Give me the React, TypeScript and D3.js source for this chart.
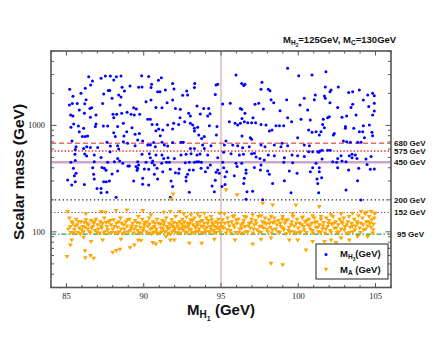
import React from 'react';
import * as d3 from 'd3';

const xMajorTicks = [85, 90, 95, 100, 105];
const yLabelTicks = [100, 1000];
const refValues = [680, 575, 450, 200, 152, 95];
const refLabels = ['680 GeV', '575 GeV', '450 GeV', '200 GeV', '152 GeV', '95 GeV'];
const vLineValue = 95;

// [M_H1, M_H3]
const h3Points: [number, number][] = [
[86.44,2870],[86.68,2610],[86.57,2395],[87.24,2767],[87.52,2910],[87.84,2910],[88.06,2670],[88.23,2870],[88.53,2910],[85.21,2180],[86.22,2228],[85.42,1880],[85.94,2000],[86.27,1745],[87.71,2130],[87.80,2130],[87.41,1970],[87.95,1795],[88.60,2280],[88.75,2100],[89.11,2340],[89.67,2280],[88.38,1929],[88.53,1850],[85.19,1553],[85.38,1610],[85.70,1610],[85.83,1395],[86.18,1600],[86.52,1445],[86.63,1465],[87.34,1610],[88.47,1553],[89.35,1465],[86.16,1300],[85.27,1251],[85.42,1225],[86.55,1190],[86.91,1251],[88.01,1270],[88.06,1180],[88.25,1270],[88.57,1300],[88.92,1330],[89.18,1270],[89.39,1251],[89.52,1425],[89.74,1270],[85.47,1030],[85.77,985],[85.29,960],[86.11,938],[86.91,1030],[86.87,975],[87.39,985],[87.67,985],[88.31,975],[88.68,1045],[89.24,950],[85.83,872],[86.03,785],[86.22,785],[86.37,795],[88.06,855],[88.16,785],[88.72,795],[88.90,872],[89.44,825],[89.72,840],[85.36,713],[85.62,630],[85.57,595],[86.11,608],[86.31,630],[87.02,620],[86.55,620],[87.62,693],[87.84,640],[88.31,645],[88.38,600],[88.68,703],[88.96,680],[89.44,645],[85.55,535],[86.18,540],[86.80,527],[86.31,515],[87.24,500],[87.82,566],[88.31,490],[88.44,463],[85.57,467],[85.29,450],[86.80,456],[87.67,450],[88.10,456],[88.64,440],[89.07,415],[89.50,410],[89.67,424],[87.30,403],[87.45,395],[87.56,380],[88.31,373],[88.98,415],[85.45,395],[85.62,355],[85.51,337],[86.70,400],[86.76,347],[87.95,350],[89.57,380],[86.80,313],[85.08,307],[85.34,275],[85.57,296],[86.16,279],[87.41,296],[87.58,296],[87.78,300],[89.35,300],[86.98,256],[87.24,256],[87.24,233],[87.62,235],
[89.87,2930],[89.89,2290],[90.51,2430],[90.47,2275],[90.32,2880],[90.95,2650],[91.14,2800],[91.05,2073],[90.90,2073],[91.40,2150],[91.87,2470],[91.96,2200],[92.52,1920],[92.78,2100],[92.84,1929],[93.30,2470],[93.28,2275],[94.68,2395],[94.79,2430],[94.63,1955],[90.15,1670],[90.47,1730],[90.79,1475],[91.18,1465],[91.51,1630],[91.87,1730],[92.05,1445],[92.37,1415],[93.45,1520],[92.91,1300],[93.02,1225],[93.66,1280],[93.88,1445],[94.20,1445],[94.14,1225],[94.29,1290],[92.35,1180],[90.26,1145],[90.43,1140],[90.54,1020],[90.86,1020],[90.97,925],[90.79,890],[91.07,800],[91.23,905],[91.55,1008],[91.87,925],[91.94,1045],[92.26,1020],[92.65,1083],[93.02,1045],[93.17,1008],[93.28,938],[93.49,960],[93.28,885],[93.56,812],[93.75,755],[93.92,785],[94.25,990],[94.74,975],[94.70,812],[89.61,730],[89.93,715],[90.26,654],[90.43,654],[90.64,690],[90.75,630],[91.18,695],[91.33,654],[91.55,640],[91.87,690],[92.41,695],[92.56,695],[93.02,608],[93.28,608],[93.81,654],[93.92,608],[94.35,645],[89.89,535],[90.36,543],[90.43,497],[90.58,462],[90.79,527],[91.18,527],[91.29,490],[91.57,497],[91.98,490],[92.41,527],[92.74,535],[93.06,543],[93.45,527],[93.64,538],[94.14,527],[94.79,497],[89.61,456],[90.15,450],[90.54,446],[90.69,424],[91.16,440],[91.48,450],[91.66,450],[92.69,446],[92.95,450],[93.28,450],[93.43,456],[93.56,456],[93.73,450],[94.31,424],[89.61,395],[90.04,390],[90.32,387],[90.86,395],[91.23,367],[91.72,387],[92.30,390],[92.26,355],[92.95,382],[93.21,382],[93.71,395],[94.14,400],[93.99,367],[94.79,382],[94.89,355],[94.68,362],[90.69,347],[92.05,360],[92.84,347],[89.93,318],[90.90,314],[91.77,300],[92.74,300],[94.63,306],[90.32,275],[89.93,280],[92.74,328],[94.42,270],[94.57,238],[92.95,235],[91.87,266],[88.21,211],[91.72,211],
[99.31,3435],[95.97,2975],[96.34,2480],[96.55,2430],[96.47,2365],[97.65,2540],[97.59,2180],[98.06,2180],[98.17,2120],[100.03,2930],[95.11,1590],[95.60,1615],[96.25,1445],[96.34,1415],[97.20,1580],[97.44,1615],[97.74,1425],[98.24,1745],[98.41,1630],[98.82,1375],[99.25,1745],[100.11,1553],[100.39,1795],[95.54,1083],[95.91,1045],[96.08,1008],[96.55,1300],[96.36,1164],[96.51,1083],[96.25,1045],[96.73,1058],[96.98,1058],[97.07,1180],[97.24,1058],[97.59,1020],[97.91,1008],[98.13,885],[98.30,905],[98.56,995],[98.78,995],[99.06,995],[99.31,1180],[99.57,1083],[100.18,1140],[96.36,795],[96.90,765],[96.98,740],[95.32,715],[95.22,654],[95.76,654],[96.08,645],[96.40,615],[96.83,630],[97.59,654],[97.85,630],[98.45,654],[98.95,680],[98.88,630],[99.31,645],[99.96,765],[100.39,654],[95.17,560],[95.65,543],[96.19,527],[96.45,535],[96.98,543],[97.16,548],[97.27,505],[97.52,490],[97.80,473],[98.06,527],[98.45,520],[99.06,450],[99.10,497],[99.60,527],[99.64,446],[99.96,518],[100.39,510],[95.11,450],[95.17,400],[95.37,367],[95.97,440],[96.04,410],[96.34,440],[96.62,382],[96.62,355],[97.16,403],[97.55,382],[97.59,424],[98.02,372],[98.13,347],[99.42,372],[95.26,330],[95.86,337],[96.51,318],[98.34,285],[99.10,302],[99.92,355],[95.06,266],[95.26,278],[96.47,285],[99.53,233],[96.68,238],[97.05,241],[96.62,202],[97.70,200],
[101.79,3196],[100.89,2975],[101.75,2300],[102.12,2150],[102.05,2073],[102.59,2300],[103.95,2150],[103.52,2073],[103.26,2040],[104.81,2000],[104.92,1900],[104.49,1929],[104.21,1730],[101.10,1929],[101.04,1745],[101.69,1885],[101.75,1795],[102.05,1630],[103.52,1580],[103.41,1475],[102.55,1475],[104.92,1615],[104.56,1505],[100.61,1395],[104.92,1365],[103.74,1251],[103.13,1225],[102.83,1190],[104.81,1251],[102.01,1205],[101.90,1180],[101.62,1145],[100.78,1125],[101.58,1020],[101.69,950],[101.15,872],[100.89,860],[101.47,872],[101.36,812],[100.67,905],[102.33,840],[102.27,812],[103.05,975],[103.05,938],[103.59,938],[103.95,872],[104.17,872],[104.21,995],[104.60,1008],[104.77,860],[104.81,800],[104.28,765],[102.92,715],[103.13,703],[103.37,695],[103.84,695],[104.06,695],[100.72,645],[100.67,566],[100.93,566],[101.26,566],[101.41,574],[101.32,558],[101.54,585],[101.90,585],[102.07,585],[101.54,483],[102.23,456],[102.55,490],[102.48,450],[102.77,520],[102.83,462],[103.09,456],[103.30,520],[103.48,535],[103.69,527],[103.80,490],[103.48,497],[104.38,483],[104.71,510],[101.15,440],[101.36,400],[100.93,400],[100.78,367],[101.36,367],[102.55,400],[103.26,382],[103.91,395],[104.45,430],[104.66,387],[104.92,390],[101.21,314],[101.51,323],[103.84,302],[101.26,285],[103.09,247],[101.32,233],[104.06,199]
];

// [M_H1, M_A]
const aPoints: [number, number][] = [
[85.08,155],[86.26,147],[87.24,155],[87.52,152],[88.21,158],[88.92,160],[89.93,158],[90.47,144],[91.29,152],[91.72,155],[92.31,155],[92.59,147],[93.06,144],[93.49,147],[93.92,149],[94.36,139],[94.90,149],[91.90,226],[91.78,203],[95.33,247],[96.04,222],[97.70,185],[98.34,178],[99.85,178],[101.36,172],
[85.19,134],[85.34,124],[85.25,112],[85.40,120],[85.51,104],[85.62,131],[85.68,116],[85.47,97],[85.73,98],[85.83,108],[85.94,124],[86.05,112],[86.16,122],[86.11,100],[86.26,129],[86.37,106],[86.42,116],[86.55,97],[86.59,127],[86.70,112],[86.76,120],[86.85,102.5],[86.91,131],[87.02,116],[87.13,97],[87.19,124],[87.28,108],[87.34,120],[87.45,134],[87.49,100],[87.62,112],[87.71,124],[87.77,97],[87.88,116],[87.99,106],[88.05,129],[88.14,98],[88.23,120],[88.31,110],[88.42,100],[88.49,134],[88.57,120],[88.64,95.4],[88.75,106],[88.85,124],[88.92,113],[89.00,100],[89.09,131],[89.18,108],[89.28,120],[89.35,97],[89.44,127],[89.50,112],[89.61,102.5],[89.65,139],[89.74,120],[89.82,97],[89.91,131],[90.00,108],[90.08,122],[90.17,100],[90.26,113],[90.34,134],[90.43,106],[90.51,95.4],[90.60,124],[90.69,112],[90.77,100],[90.86,131],[90.95,120],[91.01,97],[91.12,108],[91.20,127],[91.29,116],[91.38,100],[91.46,134],[91.55,106],[91.64,120],[91.72,94.7],[91.81,129],[91.89,112],[91.98,102.5],[92.07,139],[92.15,120],[92.24,97],[92.33,124],[92.41,108],[92.50,131],[92.58,113],[92.67,100],[92.76,137],[92.84,120],[92.93,106],[93.02,129],[93.10,97],[93.19,116],[93.28,134],[93.36,108],[93.45,122],[93.53,100],[93.62,139],[93.71,113],[93.79,127],[93.88,97],[93.97,106],[94.05,134],[94.14,120],[94.22,100],[94.31,112],[94.40,129],[94.48,116],[94.57,97],[94.66,124],[94.74,108],[94.83,131],[94.91,104],[95.00,120],
[85.12,106],[85.29,98],[85.55,113],[85.77,124],[85.90,95.4],[85.98,104],[86.20,110],[86.33,120],[86.48,100],[86.63,108],[86.80,124],[86.98,98],[87.06,106],[87.24,113],[87.41,97],[87.56,122],[87.67,104],[87.84,127],[87.93,98],[88.10,112],[88.27,97],[88.38,124],[88.53,106],[88.70,116],[88.79,98],[88.96,129],[89.13,102.5],[89.22,113],[89.39,106],[89.57,122],[89.69,98],[89.78,110],[89.95,102.5],[90.04,116],[90.21,124],[90.30,97],[90.38,118],[90.56,108],[90.64,98],[90.73,120],[90.82,106],[90.90,95.4],[91.08,118],[91.16,100],[91.25,106],[91.33,124],[91.51,112],[91.59,97],[91.68,108],[91.77,116],[91.85,100],[91.94,122],[92.02,108],[92.11,98],[92.20,113],[92.28,106],[92.37,97],[92.46,118],[92.54,104],[92.63,124],[92.71,110],[92.80,98],[92.89,113],[92.97,120],[93.06,104],[93.15,127],[93.23,98],[93.32,112],[93.40,100],[93.49,116],[93.58,106],[93.66,124],[93.75,98],[93.84,112],[93.92,120],[94.01,100],[94.09,110],[94.18,127],[94.27,98],[94.35,106],[94.44,120],[94.53,102.5],[94.61,112],[94.70,98],[94.79,120],[94.87,110],[94.96,98],
[85.34,83.6],[85.25,75],[86.11,88.6],[86.59,80.6],[87.34,83.6],[88.53,85],[89.65,83.6],[90.58,78.9],[90.79,76.7],[91.08,80.6],[91.44,90],[91.72,83.6],[91.98,83.6],[92.95,77.8],[93.75,77.8],[94.57,85],[87.99,64],[88.23,66.4],[88.46,68.4],[89.11,71],[89.39,75],[89.82,82.5],[86.20,66],[86.55,59.6],[86.22,57],[86.76,56.2],[85.04,58.3],
[95.22,147],[95.86,141],[96.51,139],[97.05,144],[97.59,141],[98.24,139],[98.99,139],[99.64,147],[100.28,137],[100.93,141],[101.47,139],[102.12,144],[102.77,147],[103.52,149],[104.06,155],[104.38,152],[104.71,155],[104.92,149],
[95.11,129],[95.17,108],[95.26,120],[95.32,97],[95.43,134],[95.54,113],[95.60,102.5],[95.69,124],[95.78,139],[95.86,110],[95.95,98],[96.04,120],[96.12,131],[96.21,106],[96.29,116],[96.38,97],[96.47,127],[96.55,112],[96.64,137],[96.73,100],[96.81,120],[96.90,108],[96.98,131],[97.07,97],[97.16,116],[97.24,127],[97.33,104],[97.42,139],[97.50,112],[97.59,98],[97.67,124],[97.76,108],[97.85,134],[97.93,118],[98.02,100],[98.11,129],[98.19,110],[98.28,97],[98.36,122],[98.45,134],[98.54,106],[98.62,116],[98.71,127],[98.80,98],[98.88,112],[98.97,131],[99.06,104],[99.14,120],[99.23,95.4],[99.31,129],[99.40,110],[99.49,100],[99.57,124],[99.66,139],[99.75,113],[99.83,97],[99.92,131],[100.00,108],[100.09,120],[100.18,100],[100.26,134],[100.35,112],[100.44,124],[100.52,98],[100.61,116],[100.69,131],[100.78,106],[100.87,120],[100.95,97],[101.04,134],[101.13,110],[101.21,124],[101.30,100],[101.38,116],[101.47,131],[101.56,106],[101.64,122],[101.73,97],[101.82,134],[101.90,112],[101.99,127],[102.07,102.5],[102.16,118],[102.25,139],[102.33,108],[102.42,124],[102.51,98],[102.59,116],[102.68,131],[102.77,106],[102.85,120],[102.94,134],[103.02,112],[103.11,97],[103.20,124],[103.28,139],[103.37,110],[103.46,120],[103.54,100],[103.63,131],[103.71,113],[103.80,124],[103.89,141],[103.97,108],[104.06,120],[104.15,134],[104.23,104],[104.32,147],[104.40,124],[104.49,113],[104.58,139],[104.66,120],[104.75,129],[104.84,104],[104.92,134],[104.97,149],
[95.06,112],[95.39,104],[95.47,122],[95.65,97],[95.82,116],[95.99,129],[96.16,98],[96.34,108],[96.42,120],[96.60,100],[96.77,113],[96.94,122],[97.11,106],[97.29,120],[97.46,100],[97.63,113],[97.80,122],[97.98,106],[98.15,120],[98.32,104],[98.49,124],[98.67,100],[98.84,120],[99.01,108],[99.18,127],[99.36,102.5],[99.53,116],[99.70,100],[99.87,120],[100.05,98],[100.22,116],[100.39,104],[100.57,127],[100.74,113],[100.91,102.5],[101.08,122],[101.26,110],[101.43,98],[101.60,113],[101.77,106],[101.95,120],[102.12,98],[102.29,120],[102.46,108],[102.64,100],[102.81,124],[102.98,104],[103.15,116],[103.33,98],[103.50,113],[103.67,104],[103.84,120],[104.02,98],[104.19,116],[104.36,106],[104.53,124],[104.71,110],[104.88,118],
[95.91,83.6],[97.05,76.7],[97.59,85],[98.24,87],[99.42,83.6],[99.96,83.6],[100.50,67.4],[100.93,80.6],[101.69,80.6],[102.12,83.6],[102.44,78.9],[102.77,87],[103.30,83.6],[103.84,90],[104.49,90],[104.81,97],[98.24,50.5],[98.99,48.8]
];

const refStyles = [
  { stroke: '#f06a6a', width: 1.5, dash: '5,3' },
  { stroke: '#e52a2a', width: 1.3, dash: '1.4,2' },
  { stroke: '#c9a7c9', width: 2.6, dash: '' },
  { stroke: '#222222', width: 1.3, dash: '1.3,2.6' },
  { stroke: '#8b3a62', width: 1.2, dash: '1.2,2.2' },
  { stroke: '#2f9a3a', width: 1.2, dash: '5,2,1.5,2' },
];
const labelOffsets = [3, 3, 3, 3, 3, 6];

const SANS = "'Liberation Sans', Arial, Helvetica, sans-serif";
const SERIF = "'Liberation Serif', 'Times New Roman', serif";

export default function App() {
  const left = 51, right = 391, top = 51, bottom = 287.5;
  const x = d3.scaleLinear().domain([84, 106]).range([left, right]);
  const y = d3.scaleLog().domain([30, 5000]).range([bottom, top]);

  const xMinor = d3.range(84, 107, 1).filter(v => !xMajorTicks.includes(v));
  const yMinor: number[] = [];
  [10, 100, 1000].forEach(d => {
    for (let k = 1; k <= 9; k++) {
      const v = k * d;
      if (v >= 30 && v <= 5000 && !yLabelTicks.includes(v)) yMinor.push(v);
    }
  });

  const tri = 'M-2.4,-1.7L2.4,-1.7L0,2.3Z';
  const frameColor = '#555';

  return (
    <svg width={440} height={340} style={{ position: 'absolute', left: 0, top: 0, background: '#fff' }}>
      <rect x={0} y={0} width={440} height={340} fill="#fff" />
      {/* vertical line */}
      <line x1={x(vLineValue)} x2={x(vLineValue)} y1={top} y2={bottom} stroke="#e2cccc" strokeWidth={2} />
      {/* horizontal reference lines */}
      {refValues.map((v, i) => (
        <line key={'r' + i} x1={left} x2={right} y1={y(v)} y2={y(v)}
          stroke={refStyles[i].stroke} strokeWidth={refStyles[i].width}
          strokeDasharray={refStyles[i].dash || undefined} />
      ))}
      {/* points */}
      {h3Points.map((p, i) => (
        <circle key={'b' + i} cx={x(p[0])} cy={y(p[1])} r={1.5} fill="#0000ff" />
      ))}
      {aPoints.map((p, i) => (
        <path key={'o' + i} d={tri} transform={`translate(${x(p[0])},${y(p[1])})`} fill="#ffa500" />
      ))}
      {/* frame */}
      <rect x={left} y={top} width={right - left} height={bottom - top} fill="none" stroke={frameColor} strokeWidth={1.6} />
      {/* x ticks */}
      {xMajorTicks.map(v => (
        <g key={'xm' + v}>
          <line x1={x(v)} x2={x(v)} y1={bottom} y2={bottom - 4.5} stroke={frameColor} strokeWidth={1} />
          <line x1={x(v)} x2={x(v)} y1={top} y2={top + 4.5} stroke={frameColor} strokeWidth={1} />
          <text x={x(v)} y={299} textAnchor="middle" fontFamily={SERIF} fontSize={8.5} fill="#222">{v}</text>
        </g>
      ))}
      {xMinor.map(v => (
        <g key={'xn' + v}>
          <line x1={x(v)} x2={x(v)} y1={bottom} y2={bottom - 2.5} stroke={frameColor} strokeWidth={1} />
          <line x1={x(v)} x2={x(v)} y1={top} y2={top + 2.5} stroke={frameColor} strokeWidth={1} />
        </g>
      ))}
      {/* y ticks */}
      {yLabelTicks.map(v => (
        <g key={'ym' + v}>
          <line x1={left} x2={left + 5.5} y1={y(v)} y2={y(v)} stroke={frameColor} strokeWidth={1} />
          <line x1={right} x2={right - 5.5} y1={y(v)} y2={y(v)} stroke={frameColor} strokeWidth={1} />
          <text x={45} y={y(v) + 3} textAnchor="end" fontFamily={SERIF} fontSize={8.5} fill="#222">{v}</text>
        </g>
      ))}
      {yMinor.map(v => (
        <g key={'yn' + v}>
          <line x1={left} x2={left + 3} y1={y(v)} y2={y(v)} stroke={frameColor} strokeWidth={1} />
          <line x1={right} x2={right - 3} y1={y(v)} y2={y(v)} stroke={frameColor} strokeWidth={1} />
        </g>
      ))}
      {/* reference labels */}
      {refValues.map((v, i) => (
        <text key={'rl' + i} x={right + labelOffsets[i]} y={y(v) + 2.8} fontFamily={SANS} fontWeight="bold" fontSize={8} fill="#111">{refLabels[i]}</text>
      ))}
      {/* title */}
      <text x={283} y={43} fontFamily={SANS} fontWeight="bold" fontSize={9.5} fill="#111">
        M<tspan fontSize={6.5} dy={2}>H</tspan><tspan fontSize={4.8} dy={1.5}>2</tspan>
        <tspan fontSize={9.5} dy={-3.5}>=125GeV, M</tspan><tspan fontSize={6.5} dy={2}>C</tspan>
        <tspan fontSize={9.5} dy={-2}>=130GeV</tspan>
      </text>
      {/* axis titles */}
      <text x={221} y={315} textAnchor="middle" fontFamily={SANS} fontWeight="bold" fontSize={15} fill="#111">
        M<tspan fontSize={10} dy={3}>H</tspan><tspan fontSize={7} dy={2.5}>1</tspan><tspan fontSize={15} dy={-5.5}> (GeV)</tspan>
      </text>
      <text transform="translate(24,172) rotate(-90)" textAnchor="middle" fontFamily={SANS} fontWeight="bold" fontSize={15.5} fill="#111">Scalar mass (GeV)</text>
      {/* legend */}
      <rect x={316} y={244} width={72} height={35} fill="#fff" stroke="#222" strokeWidth={1} />
      <circle cx={326} cy={254.5} r={1.5} fill="#0000ff" />
      <text x={340} y={257} fontFamily={SANS} fontWeight="bold" fontSize={9.5} fill="#111">
        M<tspan fontSize={6.5} dy={2}>H</tspan><tspan fontSize={4.8} dy={1.5}>3</tspan><tspan fontSize={9.5} dy={-3.5}>(GeV)</tspan>
      </text>
      <path d={tri} transform="translate(326,269.5)" fill="#ffa500" />
      <text x={340} y={272.5} fontFamily={SANS} fontWeight="bold" fontSize={9.5} fill="#111">
        M<tspan fontSize={6.5} dy={2}>A</tspan><tspan fontSize={9.5} dy={-2}> (GeV)</tspan>
      </text>
    </svg>
  );
}
